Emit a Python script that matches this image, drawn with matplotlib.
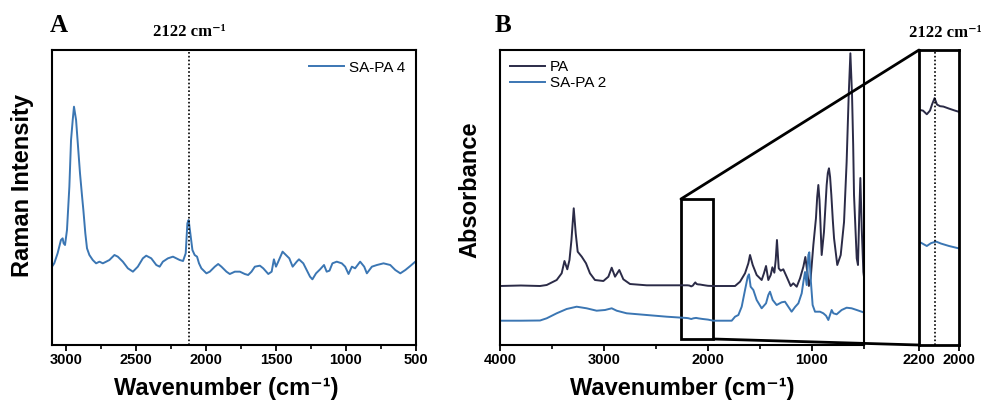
import matplotlib
matplotlib.use("Agg")
import matplotlib.pyplot as plt
from matplotlib.patches import Rectangle, ConnectionPatch

plt.rcParams['font.family'] = ['Liberation Sans', 'DejaVu Sans']

# ---------------- Panel A: Raman (SA-PA 4) ----------------
raman_wn = [3100, 3084, 3060, 3036, 3024, 3017, 3007, 2993, 2976, 2964,
            2952, 2943, 2928, 2914, 2900, 2885, 2876, 2862, 2850, 2833,
            2809, 2785, 2761, 2737, 2713, 2690, 2654, 2630, 2594, 2558,
            2522, 2487, 2451, 2427, 2391, 2355, 2331, 2308, 2272, 2236,
            2188, 2164, 2145, 2133, 2124, 2112, 2097, 2081, 2064, 2050,
            2033, 1997, 1973, 1937, 1913, 1890, 1854, 1830, 1794, 1758,
            1723, 1699, 1675, 1651, 1615, 1591, 1555, 1531, 1515, 1500,
            1484, 1453, 1429, 1405, 1381, 1352, 1336, 1305, 1281, 1257,
            1240, 1214, 1185, 1157, 1138, 1118, 1097, 1066, 1030, 1006,
            982, 958, 935, 899, 870, 851, 815, 779, 732, 684,
            648, 612, 576, 541, 505]
raman_int = [235, 245, 275, 315, 320, 305, 300, 345, 475, 615,
             675, 715, 675, 595, 515, 445, 405, 335, 290, 270,
             255, 245, 250, 245, 250, 255, 270, 265, 250, 230,
             220, 235, 260, 268, 260, 240, 235, 250, 260, 265,
             255, 252, 275, 365, 375, 335, 285, 270, 265, 245,
             230, 215, 220, 235, 243, 235, 220, 213, 220, 220,
             213, 210, 220, 235, 238, 230, 213, 220, 257, 235,
             250, 280, 270, 260, 235, 250, 257, 245, 225, 205,
             197, 215, 227, 240, 220, 223, 245, 250, 245, 235,
             213, 235, 230, 250, 235, 215, 235, 240, 245, 240,
             225, 215, 225, 237, 250]

# ---------------- Panel B: absorbance ----------------
pa_wn = [4000, 3800, 3615, 3551, 3455, 3407, 3380, 3353, 3332, 3313,
         3291, 3272, 3253, 3214, 3173, 3135, 3087, 3006, 2958, 2926,
         2894, 2853, 2814, 2750, 2590, 2430, 2269, 2200, 2180, 2161,
         2145, 2135, 2122, 2110, 2095, 2078, 2050, 2020, 2000, 1949,
         1740, 1692, 1644, 1612, 1596, 1570, 1532, 1484, 1462, 1442,
         1420, 1397, 1381, 1362, 1349, 1337, 1320, 1301, 1276, 1244,
         1205, 1180, 1147, 1115, 1083, 1064, 1045, 1030, 1013, 987,
         962, 950, 939, 928, 923, 907, 885, 870, 859, 848,
         837, 826, 814, 800, 788, 757,
         724, 692, 667, 656, 647, 631, 615, 604, 596, 570, 558, 545,
         535, 522, 506, 500]
pa_abs = [59, 59.5, 59, 60, 65, 71.7, 84, 75.7, 85, 105,
          136.7, 111.7, 93.3, 88.3, 81.7, 71.7, 65, 64, 68.3, 77.3,
          68.3, 75, 65.7, 61, 59.7, 59.7, 59.7, 59.7, 59.5, 58.6,
          59.5, 61, 62.6, 61, 60.6, 60.5, 60, 59.5, 59.2, 59,
          59, 63.3, 71.7, 81.7, 90, 80, 70, 65, 71.7, 79,
          65, 70, 77.7, 72.3, 85, 105, 76.7, 74.3, 75.7, 68.3,
          59, 61.7, 58.3, 66.7, 78.3, 88, 73, 59, 66.7, 100,
          126.7, 148, 160, 145, 133, 90, 113, 140, 160, 172,
          176.7, 168, 150, 125, 106.7, 80,
          90, 123, 183, 220, 250, 291.7, 250, 200, 150, 86.7, 80, 133,
          167, 116.7, 73, 68]

sa_wn = [4000, 3800, 3615, 3551, 3455, 3359, 3263, 3167, 3071, 2990,
         2926, 2878, 2782, 2590, 2397, 2205, 2190, 2161, 2140, 2115,
         2090, 2050, 2000, 1949, 1772, 1740, 1708, 1676, 1644, 1618,
         1606, 1590, 1564, 1532, 1484, 1442, 1420, 1404, 1378, 1340,
         1292, 1260, 1228, 1196, 1163, 1131, 1099, 1083, 1067, 1051,
         1035, 1026, 1013, 994, 971, 923, 891, 865, 843, 827,
         811, 795, 763, 715, 667, 619, 570, 506, 500]
sa_abs = [24.3, 24.3, 24.5, 26.7, 31.7, 36, 38.3, 36.7, 34.3, 35,
          36.7, 34.3, 31.7, 30, 28.3, 27, 26.8, 26.0, 26.7, 27.1,
          26.6, 26.0, 25.4, 24.3, 24.3, 28.3, 30, 38.3, 55, 68.3,
          70.7, 58.3, 55, 45, 36.7, 41.7, 50, 53.3, 45, 40,
          42.7, 43.3, 38.3, 33.3, 38, 41.7, 51.7, 63, 73, 60,
          90, 92.7, 66.7, 40, 33.3, 33.3, 31.7, 29.3, 25, 30,
          35, 31.7, 30.7, 35, 37.3, 36.7, 35, 32.7, 32.5]

peak_wn = 2122
raman_xticks = [3000, 2500, 2000, 1500, 1000, 500]
abs_xticks = [4000, 3000, 2000, 1000]
inset_xticks = [2200, 2000]

c_pa = '#2b2b47'
c_sa = '#3b76b3'

fig = plt.figure(figsize=(9.81, 4.05), dpi=100)
W, H = 981, 405
axA = fig.add_axes([52 / W, 60 / H, 364 / W, 295 / H])
axB = fig.add_axes([500 / W, 60 / H, 364 / W, 295 / H])
axI = fig.add_axes([919 / W, 60 / H, 40 / W, 295 / H])

label_font = dict(fontsize=17, fontweight='bold')
serif = ['Liberation Serif', 'DejaVu Serif']

# ---- Panel A ----
axA.plot(raman_wn, raman_int, color=c_sa, lw=1.4, label='SA-PA 4')
axA.axvline(peak_wn, color='k', ls=(0, (1, 1.3)), lw=1.2)
axA.set_xlim(3100, 500)
axA.set_ylim(0, 885)
axA.set_xticks(raman_xticks)
axA.set_xticks([2750, 2250, 1750, 1250, 750], minor=True)
axA.set_yticks([])
axA.set_xlabel('Wavenumber (cm⁻¹)', **label_font)
axA.xaxis.set_label_coords(0.48, -0.108)
axA.set_ylabel('Raman Intensity', **label_font)
axA.yaxis.set_label_coords(-0.05, 0.54)
axA.legend(loc='upper right', frameon=False, fontsize=11, handlelength=2.3,
           handletextpad=0.3, borderaxespad=0.3)
axA.text(peak_wn, 1.06, '2122 cm⁻¹', transform=axA.get_xaxis_transform(),
         ha='center', va='center', family=serif, fontweight='bold', fontsize=12)

# ---- Panel B ----
axB.plot(pa_wn, pa_abs, color=c_pa, lw=1.4, label='PA')
axB.plot(sa_wn, sa_abs, color=c_sa, lw=1.4, label='SA-PA 2')
axB.set_xlim(4000, 500)
axB.set_ylim(0, 295)
axB.set_xticks(abs_xticks)
axB.set_xticks([3500, 2500, 1500, 500], minor=True)
axB.set_yticks([])
axB.set_xlabel('Wavenumber (cm⁻¹)', **label_font)
axB.xaxis.set_label_coords(0.5, -0.108)
axB.set_ylabel('Absorbance', **label_font)
axB.yaxis.set_label_coords(-0.052, 0.525)
axB.legend(loc='upper left', frameon=False, fontsize=11, handlelength=2.3,
           handletextpad=0.3, borderaxespad=0.25, labelspacing=0.15)

# inset (zoom of 2200-2000)
axI.plot(pa_wn, pa_abs, color=c_pa, lw=1.4)
axI.plot(sa_wn, sa_abs, color=c_sa, lw=1.4)
axI.axvline(peak_wn, color='k', ls=(0, (1, 1.3)), lw=1.2)
axI.set_xlim(2200, 2000)
axI.set_ylim(1.5, 74.5)
axI.set_xticks(inset_xticks)
axI.set_yticks([])

for ax in (axA, axB):
    for s in ax.spines.values():
        s.set_linewidth(1.5)
for s in axI.spines.values():
    s.set_linewidth(2)
for ax in (axA, axB, axI):
    ax.tick_params(axis='x', which='major', direction='out', length=4, width=1.3,
                   labelsize=10.5, pad=2)
    ax.tick_params(axis='x', which='minor', direction='out', length=3, width=1.2)
    for lbl in ax.get_xticklabels():
        lbl.set_fontweight('bold')

# selection box and connectors
box = Rectangle((1950, 6), 310, 140, fill=False, lw=2, ec='k', clip_on=False)
axB.add_patch(box)
con1 = ConnectionPatch(xyA=(2260, 146), coordsA='data', axesA=axB,
                       xyB=(0, 1), coordsB='axes fraction', axesB=axI,
                       color='k', lw=2)
con2 = ConnectionPatch(xyA=(1950, 6), coordsA='data', axesA=axB,
                       xyB=(0, 0), coordsB='axes fraction', axesB=axI,
                       color='k', lw=2)
fig.add_artist(con1)
fig.add_artist(con2)

fig.text(945 / W, 1 - 33 / H, '2122 cm⁻¹', ha='center', va='center',
         family=serif, fontweight='bold', fontsize=12)

fig.text(50 / W, 1 - 25 / H, 'A', family=serif, fontweight='bold', fontsize=18,
         ha='left', va='center')
fig.text(495 / W, 1 - 25 / H, 'B', family=serif, fontweight='bold', fontsize=18,
         ha='left', va='center')

fig.savefig('out.png', dpi=100)
